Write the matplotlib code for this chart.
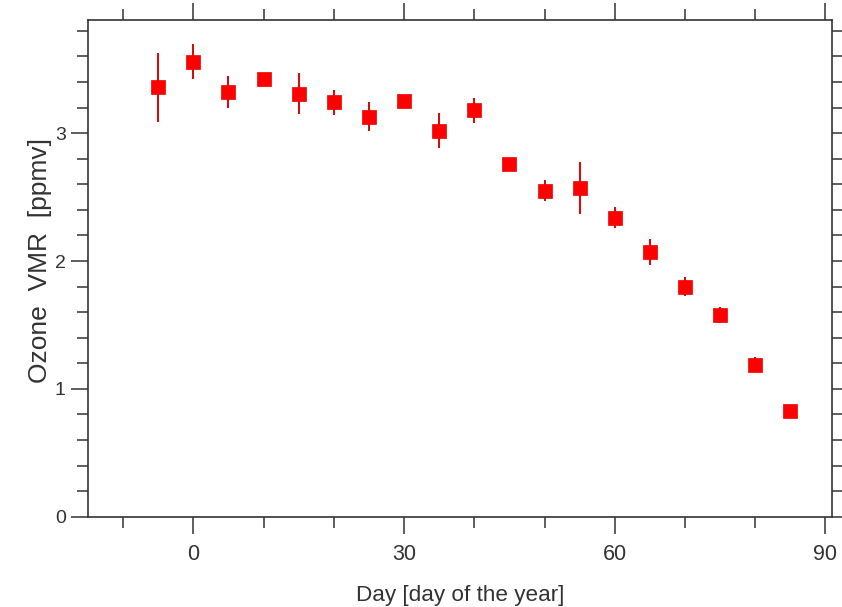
import matplotlib
matplotlib.use("Agg")
import matplotlib.pyplot as plt
from matplotlib.ticker import MultipleLocator

# Ozone volume mixing ratio measurements by day of year
days = [-5, 0, 5, 10, 15, 20, 25, 30, 35, 40, 45, 50, 55, 60, 65, 70, 75, 80, 85]
ozone_vmr = [3.36, 3.56, 3.32, 3.42, 3.31, 3.24, 3.13, 3.25, 3.02, 3.18, 2.76,
             2.55, 2.57, 2.34, 2.07, 1.80, 1.58, 1.19, 0.83]
ozone_err = [0.27, 0.14, 0.126, 0.03, 0.163, 0.095, 0.115, 0.03, 0.135, 0.098, 0.03,
             0.083, 0.205, 0.085, 0.10, 0.073, 0.062, 0.062, 0.03]

plt.rcParams['font.family'] = ['Liberation Sans', 'DejaVu Sans']
text_color = '#333333'
spine_color = '#333333'

fig = plt.figure(figsize=(8.42, 6.07), dpi=100)
ax = fig.add_axes([0.1045, 0.1488, 0.8842, 0.8182])

ax.errorbar(days, ozone_vmr, yerr=ozone_err, fmt='none',
            ecolor='#cc1111', elinewidth=1.5, capsize=0, zorder=2)
ax.plot(days, ozone_vmr, linestyle='none', marker='s', markersize=9.5,
        markerfacecolor='#ff0000', markeredgecolor='#ee0000',
        markeredgewidth=0.5, zorder=3)

ax.set_xlim(-15, 91)
ax.set_ylim(0, 3.885)

ax.xaxis.set_major_locator(MultipleLocator(30))
ax.xaxis.set_minor_locator(MultipleLocator(10))
ax.yaxis.set_major_locator(MultipleLocator(1))
ax.yaxis.set_minor_locator(MultipleLocator(0.2))

ax.tick_params(axis='both', which='both', direction='out', colors=spine_color,
               labelcolor=text_color, width=1.1, top=True, right=True)
ax.tick_params(axis='both', which='major', length=12)
ax.tick_params(axis='both', which='minor', length=8)
ax.tick_params(axis='x', which='major', pad=8, labelsize=15.5)
ax.tick_params(axis='y', which='major', pad=4, labelsize=14)

for spine in ax.spines.values():
    spine.set_color(spine_color)
    spine.set_linewidth(1.2)

ax.set_xlabel('Day [day of the year]', fontsize=16.2, color=text_color, labelpad=14)
ax.set_ylabel('Ozone  VMR  [ppmv]', fontsize=19, color=text_color, labelpad=2)
ax.yaxis.label.set_y(0.516)

fig.savefig('out.png', dpi=100)
